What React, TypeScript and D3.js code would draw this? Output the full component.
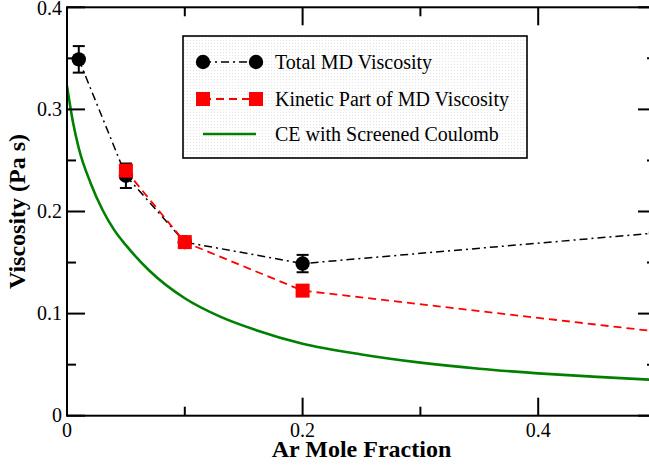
import React from 'react';
import * as d3 from 'd3';

// Ar mole fraction for the MD runs
const mdX = [0.01, 0.05, 0.1, 0.2, 0.5];
const totalVisc = [0.349, 0.235, 0.17, 0.149, 0.179];
const totalErr = [0.013, 0.012, 0.004, 0.0085, 0.007];

const kinX = [0.05, 0.1, 0.2, 0.5];
const kineticVisc = [0.24, 0.17, 0.1225, 0.0825];

// Chapman-Enskog curve
const ceX = [0, 0.005, 0.01, 0.02, 0.03, 0.04, 0.05, 0.07, 0.1, 0.13, 0.16, 0.2, 0.25, 0.3, 0.35, 0.4, 0.45, 0.5];
const ceVisc = [0.323, 0.288, 0.262, 0.228, 0.202, 0.182, 0.167, 0.142, 0.115, 0.097, 0.084, 0.0705, 0.06, 0.052, 0.046, 0.0415, 0.038, 0.035];

const xMajor = [0, 0.2, 0.4];
const xMajorLabels = ['0', '0.2', '0.4'];
const xMinor = [0.1, 0.3, 0.5];
const yMajor = [0, 0.1, 0.2, 0.3, 0.4];
const yMajorLabels = ['0', '0.1', '0.2', '0.3', '0.4'];
const yMinor = [0.05, 0.15, 0.25, 0.35];

const legendLabels = ['Total MD Viscosity', 'Kinetic Part of MD Viscosity', 'CE with Screened Coulomb'];

const W = 649;
const H = 467;
const left = 67, right = 656, top = 7.3, bottom = 415.7;
const font = "'Liberation Serif', 'Times New Roman', Times, Tinos, 'Noto Serif', 'DejaVu Serif', FreeSerif, serif";

export default function App() {
  const x = d3.scaleLinear().domain([0, 0.5]).range([left, right]);
  const y = d3.scaleLinear().domain([0, 0.4]).range([bottom, top]);

  const line = d3.line<[number, number]>().x(d => x(d[0])).y(d => y(d[1]));
  const ceLine = d3.line<[number, number]>().x(d => x(d[0])).y(d => y(d[1])).curve(d3.curveMonotoneX);

  const totalPts: [number, number][] = mdX.map((v, i) => [v, totalVisc[i]]);
  const kinPts: [number, number][] = kinX.map((v, i) => [v, kineticVisc[i]]);
  const cePts: [number, number][] = ceX.map((v, i) => [v, ceVisc[i]]);

  const dashDot = '8,4,2,4';
  const dashed = '8,5';
  const lgX0 = 203, lgX1 = 256, lgText = 275;
  const lgRows = [62, 99, 134];
  const txt = { fontFamily: font };

  return (
    <svg width={W} height={H} style={{ position: 'absolute', left: 0, top: 0, background: '#fff', fontFamily: font }}>
      <defs>
        <clipPath id="plot">
          <rect x={left} y={top} width={right - left} height={bottom - top} />
        </clipPath>
        <pattern id="dots" width={3} height={3} patternUnits="userSpaceOnUse">
          <rect width={3} height={3} fill="#fff" />
          <rect x={1} y={1} width={0.8} height={0.8} fill="#d8d8d8" />
        </pattern>
      </defs>

      <g clipPath="url(#plot)">
        <path d={ceLine(cePts) || ''} fill="none" stroke="#008000" strokeWidth={2.6} />
        <path d={line(totalPts) || ''} fill="none" stroke="#000" strokeWidth={1.5} strokeDasharray={dashDot} />
        <path d={line(kinPts) || ''} fill="none" stroke="#ff0000" strokeWidth={1.8} strokeDasharray={dashed} />
      </g>

      {/* error bars + circles */}
      {mdX.map((v, i) => {
        const cx = x(v);
        const y0 = y(totalVisc[i] - totalErr[i]);
        const y1 = y(totalVisc[i] + totalErr[i]);
        return (
          <g key={'t' + i}>
            <line x1={cx} x2={cx} y1={y0} y2={y1} stroke="#000" strokeWidth={2} />
            <line x1={cx - 6} x2={cx + 6} y1={y0} y2={y0} stroke="#000" strokeWidth={2} />
            <line x1={cx - 6} x2={cx + 6} y1={y1} y2={y1} stroke="#000" strokeWidth={2} />
            <circle cx={cx} cy={y(totalVisc[i])} r={7.2} fill="#000" />
          </g>
        );
      })}
      {kinX.map((v, i) => (
        <rect key={'k' + i} x={x(v) - 7} y={y(kineticVisc[i]) - 7} width={14} height={14} fill="#ff0000" />
      ))}

      {/* frame */}
      <rect x={left} y={top} width={right - left} height={bottom - top} fill="none" stroke="#000" strokeWidth={2} />

      {xMajor.map(v => (
        <g key={'xm' + v}>
          <line x1={x(v)} x2={x(v)} y1={bottom} y2={bottom - 18} stroke="#000" strokeWidth={2} />
          <line x1={x(v)} x2={x(v)} y1={top} y2={top + 18} stroke="#000" strokeWidth={2} />
        </g>
      ))}
      {xMinor.map(v => (
        <g key={'xn' + v}>
          <line x1={x(v)} x2={x(v)} y1={bottom} y2={bottom - 9} stroke="#000" strokeWidth={2} />
          <line x1={x(v)} x2={x(v)} y1={top} y2={top + 9} stroke="#000" strokeWidth={2} />
        </g>
      ))}
      {yMajor.map(v => (
        <g key={'ym' + v}>
          <line x1={left} x2={left + 18} y1={y(v)} y2={y(v)} stroke="#000" strokeWidth={2} />
          <line x1={right} x2={right - 18} y1={y(v)} y2={y(v)} stroke="#000" strokeWidth={2} />
        </g>
      ))}
      {yMinor.map(v => (
        <g key={'yn' + v}>
          <line x1={left} x2={left + 9} y1={y(v)} y2={y(v)} stroke="#000" strokeWidth={2} />
          <line x1={right} x2={right - 9} y1={y(v)} y2={y(v)} stroke="#000" strokeWidth={2} />
        </g>
      ))}

      {xMajor.map((v, i) => (
        <text key={'xl' + v} style={txt} x={x(v)} y={bottom + 21} fontSize={20} textAnchor="middle">{xMajorLabels[i]}</text>
      ))}
      {yMajor.map((v, i) => (
        <text key={'yl' + v} style={txt} x={62} y={Math.max(y(v), 8)} dy="0.33em" fontSize={20} textAnchor="end">{yMajorLabels[i]}</text>
      ))}

      <text style={txt} x={(left + right) / 2} y={457} fontSize={24} fontWeight="bold" textAnchor="middle">Ar Mole Fraction</text>
      <text style={txt} transform={`translate(25,${(top + bottom) / 2}) rotate(-90)`} fontSize={24} fontWeight="bold" textAnchor="middle">Viscosity (Pa s)</text>

      {/* legend */}
      <rect x={183} y={36} width={344} height={122} fill="url(#dots)" stroke="#000" strokeWidth={1.6} />
      <line x1={lgX0} x2={lgX1} y1={lgRows[0]} y2={lgRows[0]} stroke="#000" strokeWidth={1.5} strokeDasharray={dashDot} />
      <circle cx={lgX0} cy={lgRows[0]} r={7.2} fill="#000" />
      <circle cx={lgX1} cy={lgRows[0]} r={7.2} fill="#000" />
      <line x1={lgX0} x2={lgX1} y1={lgRows[1]} y2={lgRows[1]} stroke="#ff0000" strokeWidth={1.8} strokeDasharray={dashed} />
      <rect x={lgX0 - 7} y={lgRows[1] - 7} width={14} height={14} fill="#ff0000" />
      <rect x={lgX1 - 7} y={lgRows[1] - 7} width={14} height={14} fill="#ff0000" />
      <line x1={lgX0} x2={lgX1} y1={lgRows[2]} y2={lgRows[2]} stroke="#008000" strokeWidth={2.6} />
      {legendLabels.map((t, i) => (
        <text key={t} style={txt} x={lgText} y={lgRows[i]} dy="0.33em" fontSize={20}>{t}</text>
      ))}
    </svg>
  );
}
